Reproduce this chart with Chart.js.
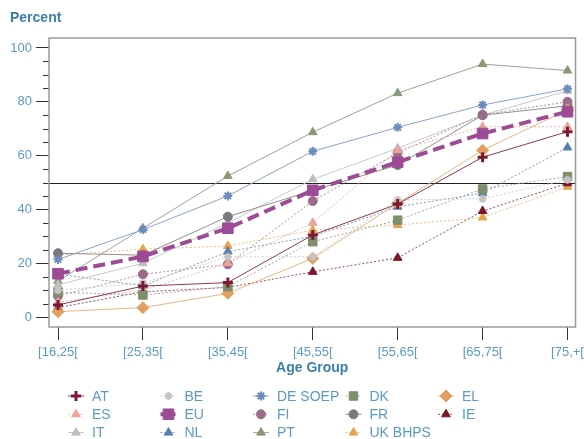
<!DOCTYPE html>
<html>
<head>
<meta charset="utf-8">
<script src="https://cdn.jsdelivr.net/npm/chart.js@4"></script>
<style>
  body { margin: 0; background: #fff; }
</style>
</head>
<body>
<canvas id="chart" width="584" height="439"></canvas>
<script>
const ageGroups = ["[16,25[", "[25,35[", "[35,45[", "[45,55[", "[55,65[", "[65,75[", "[75,+["];
const yTicks = [0, 20, 40, 60, 80, 100];

const AT = [4.5, 11.5, 12.8, 30.5, 42, 59.4, 68.9];
const BE = [10, 12.6, 22.4, 22.4, 43.5, 44, 51];
const DE_SOEP = [21.4, 32.5, 45, 61.6, 70.5, 78.8, 84.8];
const DK = [9.2, 8.2, 11.3, 28, 36, 47.6, 52.2];
const EL = [2, 3.5, 8.8, 21.8, 42.3, 62, 77];
const ES = [5.5, 10, 20, 35, 62, 70.7, 70.7];
const EU = [16.1, 22.5, 33, 47.1, 57.6, 68.2, 76.3];
const FI = [7.8, 15.9, 19.6, 43.1, 61, 75.2, 80];
const FR = [23.7, 23, 37.3, 47, 56.5, 75, 78.5];
const IE = [3.5, 9.4, 11, 16.8, 22, 39.4, 49.7];
const IT = [12, 20, 35, 51.2, 62.7, 75, 84.1];
const NL = [16, 11.6, 24.3, 30, 41, 46, 63];
const PT = [13.4, 33, 52.4, 68.7, 83.2, 94, 91.6];
const UK_BHPS = [23, 25.2, 26.4, 32.3, 34.2, 37, 48.4];

const DOT = [2, 2];

// one line series, x is the age group index
const series = (label, values, line, point, pointStyle, radius, dash, extra) => Object.assign({
  label,
  data: values.map((v, i) => ({ x: i, y: v })),
  borderColor: line,
  backgroundColor: point,
  pointBackgroundColor: point,
  pointBorderColor: point,
  pointStyle,
  pointRadius: radius,
  pointBorderWidth: 1,
  borderWidth: 1,
  borderDash: dash,
  tension: 0,
}, extra || {});

const datasets = [
  series("AT", AT, "#8e3a50", "#7d1a33", "cross", 5, [], { pointBorderWidth: 3 }),
  series("BE", BE, "#cfcfcf", "#c4c4c4", "star", 4, DOT, { pointBorderWidth: 2 }),
  series("DE SOEP", DE_SOEP, "#8aa3ca", "#6c8cbd", "star", 4.5, [], { pointBorderWidth: 2 }),
  series("DK", DK, "#a3a89a", "#7f8e6c", "rect", 6, DOT),
  series("EL", EL, "#e9b681", "#dfa062", "rectRot", 6, []),
  series("ES", ES, "#efb3ab", "#eca39a", "triangle", 5, DOT),
  series("EU", EU, "#9c4b94", "#9c4b94", "rect", 7.5, [12, 6], { borderWidth: 4, order: -1 }),
  series("FI", FI, "#b48aa3", "#9b6c8a", "circle", 4.5, DOT),
  series("FR", FR, "#8f8f8f", "#787880", "circle", 4.5, []),
  series("IE", IE, "#9a4a5a", "#7b1528", "triangle", 5, DOT),
  series("IT", IT, "#c7c7c7", "#bdbdbd", "triangle", 5, []),
  series("NL", NL, "#7c98c0", "#5a7fb0", "triangle", 5, DOT),
  series("PT", PT, "#9da390", "#889a78", "triangle", 5, []),
  series("UK BHPS", UK_BHPS, "#efbd80", "#e6a24f", "triangle", 5, DOT),
];

const labelBlue = "#5b9bc4";
const titleBlue = "#3b7fa8";

const extras = {
  id: "extras",
  beforeDatasetsDraw(chart) {
    const { ctx, chartArea: a, scales } = chart;
    ctx.save();
    // minor y ticks
    ctx.strokeStyle = "#333";
    ctx.lineWidth = 1;
    for (let v = 5; v < 100; v += 5) {
      if (v % 20 === 0) continue;
      const y = Math.round(scales.y.getPixelForValue(v)) + 0.5;
      ctx.beginPath();
      ctx.moveTo(a.left - 6, y);
      ctx.lineTo(a.left, y);
      ctx.stroke();
    }
    // 50 % reference line
    const y50 = Math.round(scales.y.getPixelForValue(50)) + 0.5;
    ctx.strokeStyle = "#222";
    ctx.beginPath();
    ctx.moveTo(a.left, y50);
    ctx.lineTo(a.right, y50);
    ctx.stroke();
    // frame
    ctx.strokeStyle = "#9a9a9a";
    ctx.lineWidth = 1.5;
    ctx.strokeRect(a.left, a.top, a.right - a.left, a.bottom - a.top);
    // axis title on top
    ctx.fillStyle = titleBlue;
    ctx.font = "bold 14px Arial";
    ctx.textBaseline = "middle";
    ctx.fillText("Percent", 10, 18);
    ctx.restore();
  },
  afterDraw(chart) {
    const ctx = chart.ctx;
    ctx.save();
    chart.data.datasets.forEach((ds, i) => {
      const col = i % 5, row = Math.floor(i / 5);
      const tx = 92 + col * 92.5;
      const y = 396 + row * 18.3;
      ctx.strokeStyle = ds.borderColor;
      ctx.lineWidth = ds.borderWidth;
      ctx.setLineDash(ds.label === "EU" ? [6, 3] : ds.borderDash);
      ctx.beginPath();
      ctx.moveTo(tx - 24, y);
      ctx.lineTo(tx - 8, y);
      ctx.stroke();
      ctx.setLineDash([]);
      ctx.fillStyle = ds.pointBackgroundColor;
      ctx.strokeStyle = ds.pointBorderColor;
      ctx.lineWidth = ds.pointBorderWidth;
      Chart.helpers.drawPoint(ctx, {
        pointStyle: ds.pointStyle,
        radius: ds.pointRadius,
        rotation: 0,
        borderWidth: ds.pointBorderWidth,
      }, tx - 16, y);
      ctx.fillStyle = labelBlue;
      ctx.font = "14px Arial";
      ctx.textBaseline = "middle";
      ctx.fillText(ds.label, tx, y + 1);
    });
    ctx.restore();
  },
};

new Chart(document.getElementById("chart"), {
  type: "line",
  data: { datasets },
  plugins: [extras],
  options: {
    responsive: false,
    animation: false,
    devicePixelRatio: 1,
    layout: { padding: { top: 38, right: 8, bottom: 62, left: 0 } },
    plugins: {
      legend: { display: false },
      tooltip: { enabled: false },
    },
    scales: {
      x: {
        type: "linear",
        min: -0.106,
        max: 6.094,
        afterBuildTicks: (scale) => {
          scale.ticks = ageGroups.map((_, i) => ({ value: i }));
        },
        afterFit: (scale) => {
          scale.height = 50;
          scale.paddingLeft = 0;
          scale.paddingRight = 0;
        },
        border: { display: false },
        grid: { drawOnChartArea: false, tickLength: 13, tickColor: "#333" },
        ticks: {
          autoSkip: false,
          maxRotation: 0,
          padding: 5,
          color: labelBlue,
          font: { family: "Arial", size: 13 },
          callback: (v) => ageGroups[v],
        },
        title: {
          display: true,
          text: "Age Group",
          color: titleBlue,
          font: { family: "Arial", size: 14, weight: "bold" },
          padding: { top: 0, bottom: 0 },
        },
      },
      y: {
        min: -3.7,
        max: 103.7,
        afterBuildTicks: (scale) => {
          scale.ticks = yTicks.map((v) => ({ value: v }));
        },
        afterFit: (scale) => {
          scale.width = 49;
          scale.paddingTop = 0;
          scale.paddingBottom = 0;
        },
        border: { display: false },
        grid: { drawOnChartArea: false, tickLength: 13, tickColor: "#333" },
        ticks: {
          padding: 4,
          color: labelBlue,
          font: { family: "Arial", size: 13 },
        },
      },
    },
  },
});
</script>
</body>
</html>
